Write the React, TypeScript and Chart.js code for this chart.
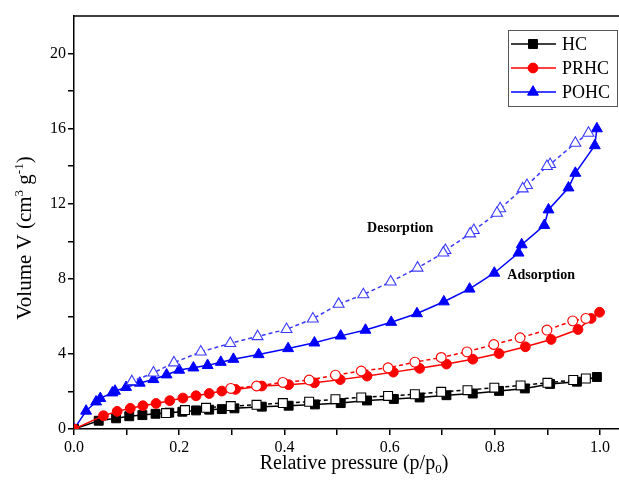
import React, { useEffect, useRef } from "react";
import { Chart, registerables } from "chart.js";

Chart.register(...registerables);

const FONT = "'Liberation Serif', 'Times New Roman', serif";

// HC
const hcAdsX = [0, 0.047, 0.08, 0.105, 0.13, 0.155, 0.181, 0.206, 0.232, 0.257, 0.281, 0.305, 0.357, 0.408, 0.458, 0.507, 0.557, 0.608, 0.657, 0.708, 0.758, 0.808, 0.857, 0.905, 0.956, 0.994];
const hcAdsY = [0, 0.44, 0.57, 0.68, 0.74, 0.81, 0.87, 0.92, 0.99, 1.03, 1.06, 1.10, 1.19, 1.24, 1.31, 1.38, 1.52, 1.60, 1.68, 1.80, 1.89, 2.03, 2.16, 2.40, 2.52, 2.77];
const hcDesX = [0.973, 0.949, 0.9, 0.849, 0.799, 0.748, 0.698, 0.648, 0.597, 0.546, 0.497, 0.447, 0.397, 0.347, 0.298, 0.251, 0.211, 0.175];
const hcDesY = [2.69, 2.61, 2.46, 2.32, 2.20, 2.07, 1.98, 1.85, 1.76, 1.68, 1.59, 1.45, 1.38, 1.29, 1.22, 1.13, 1.01, 0.85];

// PRHC
const prhcAdsX = [0, 0.056, 0.082, 0.107, 0.131, 0.156, 0.182, 0.207, 0.232, 0.257, 0.281, 0.307, 0.357, 0.408, 0.457, 0.506, 0.557, 0.607, 0.657, 0.708, 0.758, 0.808, 0.858, 0.907, 0.958, 0.983, 0.999];
const prhcAdsY = [0, 0.71, 0.94, 1.10, 1.24, 1.36, 1.51, 1.65, 1.77, 1.89, 2.02, 2.11, 2.29, 2.36, 2.46, 2.63, 2.82, 3.03, 3.23, 3.46, 3.72, 4.02, 4.38, 4.77, 5.30, 5.89, 6.22];
const prhcDesX = [0.973, 0.948, 0.899, 0.848, 0.798, 0.747, 0.698, 0.648, 0.597, 0.546, 0.497, 0.447, 0.397, 0.347, 0.298];
const prhcDesY = [5.89, 5.76, 5.27, 4.86, 4.50, 4.11, 3.81, 3.56, 3.26, 3.09, 2.87, 2.61, 2.48, 2.29, 2.16];

// POHC
const pohcAdsX = [0, 0.023, 0.042, 0.05, 0.073, 0.078, 0.099, 0.125, 0.151, 0.176, 0.2, 0.227, 0.254, 0.279, 0.303, 0.351, 0.407, 0.457, 0.507, 0.554, 0.603, 0.652, 0.703, 0.752, 0.799, 0.845, 0.851, 0.894, 0.902, 0.94, 0.953, 0.99, 0.994];
const pohcAdsY = [0, 0.96, 1.45, 1.63, 1.93, 2.02, 2.22, 2.45, 2.64, 2.89, 3.14, 3.26, 3.39, 3.56, 3.72, 3.97, 4.29, 4.59, 4.96, 5.27, 5.69, 6.15, 6.78, 7.46, 8.31, 9.38, 9.82, 10.85, 11.68, 12.85, 13.63, 15.1, 16.0];
const pohcDesX = [0.978, 0.953, 0.905, 0.899, 0.861, 0.853, 0.81, 0.804, 0.76, 0.753, 0.706, 0.702, 0.653, 0.602, 0.55, 0.503, 0.454, 0.404, 0.349, 0.297, 0.241, 0.19, 0.151, 0.11];
const pohcDesY = [15.76, 15.23, 14.1, 13.99, 12.98, 12.8, 11.74, 11.5, 10.58, 10.4, 9.52, 9.38, 8.58, 7.84, 7.16, 6.65, 5.87, 5.31, 4.93, 4.56, 4.11, 3.53, 2.99, 2.53];

const xTicks = [0, 0.1, 0.2, 0.3, 0.4, 0.5, 0.6, 0.7, 0.8, 0.9, 1.0];
const yTicks = [0, 2, 4, 6, 8, 10, 12, 14, 16, 18, 20];

const legendItems = [
  { label: "HC", color: "#000000", style: "rect", radius: 6.3 },
  { label: "PRHC", color: "#ff0000", style: "circle", radius: 4.9 },
  { label: "POHC", color: "#0000ff", style: "triangle", radius: 6.3 },
];

const pairs = (xs: number[], ys: number[]) => xs.map((x, i) => ({ x, y: ys[i] }));

function adsorption(xs: number[], ys: number[], color: string, style: string, radius: number) {
  return {
    data: pairs(xs, ys),
    borderColor: color,
    backgroundColor: color,
    borderWidth: 1.5,
    pointStyle: style,
    pointRadius: radius,
    pointBackgroundColor: color,
    pointBorderColor: color,
    pointBorderWidth: 1,
  };
}

function desorption(xs: number[], ys: number[], color: string, style: string, radius: number) {
  return {
    data: pairs(xs, ys),
    borderColor: color,
    backgroundColor: "#ffffff",
    borderWidth: 1.5,
    borderDash: [4, 3],
    pointStyle: style,
    pointRadius: radius,
    pointBackgroundColor: "#ffffff",
    pointBorderColor: color,
    pointBorderWidth: 1.1,
  };
}

function drawRich(ctx: CanvasRenderingContext2D, parts: { t: string; size: number; dy: number }[], cx: number, cy: number) {
  let total = 0;
  for (const p of parts) {
    ctx.font = `${p.size}px ${FONT}`;
    total += ctx.measureText(p.t).width;
  }
  let x = cx - total / 2;
  ctx.textAlign = "left";
  ctx.textBaseline = "alphabetic";
  for (const p of parts) {
    ctx.font = `${p.size}px ${FONT}`;
    ctx.fillText(p.t, x, cy + p.dy);
    x += ctx.measureText(p.t).width;
  }
}

function drawMarker(ctx: CanvasRenderingContext2D, style: string, x: number, y: number, r: number) {
  ctx.beginPath();
  if (style === "rect") {
    const s = Math.SQRT1_2 * r;
    ctx.rect(x - s, y - s, 2 * s, 2 * s);
  } else if (style === "circle") {
    ctx.arc(x, y, r, 0, Math.PI * 2);
  } else {
    for (let k = 0; k < 3; k++) {
      const ang = (k * 2 * Math.PI) / 3;
      const px = x + Math.sin(ang) * r;
      const py = y - Math.cos(ang) * r;
      if (k === 0) ctx.moveTo(px, py);
      else ctx.lineTo(px, py);
    }
    ctx.closePath();
  }
  ctx.fill();
  ctx.stroke();
}

// Top frame line, curve annotations, axis titles and the boxed legend
const decor = {
  id: "decor",
  afterDraw(chart: any) {
    const { ctx, chartArea: a, scales } = chart;
    ctx.save();
    ctx.strokeStyle = "#000";
    ctx.lineWidth = 1.5;
    ctx.beginPath();
    ctx.moveTo(a.left, a.top);
    ctx.lineTo(a.right, a.top);
    ctx.stroke();

    ctx.fillStyle = "#000";
    ctx.font = `bold 14px ${FONT}`;
    ctx.textAlign = "center";
    ctx.textBaseline = "middle";
    ctx.fillText("Desorption", scales.x.getPixelForValue(0.62), scales.y.getPixelForValue(10.7));
    ctx.fillText("Adsorption", scales.x.getPixelForValue(0.888), scales.y.getPixelForValue(8.2));

    drawRich(
      ctx,
      [
        { t: "Relative pressure (p/p", size: 20, dy: 0 },
        { t: "0", size: 13, dy: 4 },
        { t: ")", size: 20, dy: 0 },
      ],
      a.left + 280,
      469
    );
    ctx.save();
    ctx.translate(31, 238);
    ctx.rotate(-Math.PI / 2);
    drawRich(
      ctx,
      [
        { t: "Volume V (cm", size: 21, dy: 0 },
        { t: "3", size: 13, dy: -8 },
        { t: " g", size: 21, dy: 0 },
        { t: "-1", size: 13, dy: -8 },
        { t: ")", size: 21, dy: 0 },
      ],
      0,
      0
    );
    ctx.restore();

    const bx = 508, by = 30, bw = 109, bh = 76;
    ctx.fillStyle = "#fff";
    ctx.fillRect(bx, by, bw, bh);
    ctx.strokeStyle = "#555";
    ctx.lineWidth = 1;
    ctx.strokeRect(bx + 0.5, by + 0.5, bw, bh);
    legendItems.forEach((it, i) => {
      const y = by + 14 + i * 24;
      ctx.strokeStyle = it.color;
      ctx.lineWidth = 1.5;
      ctx.beginPath();
      ctx.moveTo(bx + 3, y);
      ctx.lineTo(bx + 48, y);
      ctx.stroke();
      ctx.fillStyle = it.color;
      ctx.lineWidth = 1;
      drawMarker(ctx, it.style, bx + 25, y, it.radius);
      ctx.fillStyle = "#000";
      ctx.font = `18px ${FONT}`;
      ctx.textAlign = "left";
      ctx.textBaseline = "middle";
      ctx.fillText(it.label, bx + 54, y + 1);
    });
    ctx.restore();
  },
};

export default function App() {
  const ref = useRef<HTMLCanvasElement | null>(null);

  useEffect(() => {
    if (!ref.current) return;
    const chart = new Chart(ref.current, {
      type: "line",
      data: {
        datasets: [
          desorption(prhcDesX, prhcDesY, "#ff0000", "circle", 4.9),
          desorption(hcDesX, hcDesY, "#000000", "rect", 6.3),
          desorption(pohcDesX, pohcDesY, "#3a3aff", "triangle", 6.3),
          adsorption(prhcAdsX, prhcAdsY, "#ff0000", "circle", 4.9),
          adsorption(hcAdsX, hcAdsY, "#000000", "rect", 6.3),
          adsorption(pohcAdsX, pohcAdsY, "#0000ff", "triangle", 6.3),
        ] as any,
      },
      options: {
        animation: false,
        responsive: false,
        devicePixelRatio: 1,
        layout: { autoPadding: false, padding: { top: 16, right: 0, left: 0, bottom: 0 } },
        plugins: { legend: { display: false }, tooltip: { enabled: false } },
        elements: { line: { tension: 0 } },
        scales: {
          x: {
            type: "linear",
            min: 0,
            max: 1.036,
            afterBuildTicks: (s: any) => {
              s.ticks = xTicks.map((v) => ({ value: v }));
            },
            afterFit: (s: any) => {
              s.height = 56;
              s.paddingLeft = 0;
              s.paddingRight = 0;
            },
            ticks: {
              callback: (v: any) => (Math.round(v * 10) % 2 === 0 ? Number(v).toFixed(1) : ""),
              font: { family: FONT, size: 16 },
              color: "#000",
              padding: 3,
              maxRotation: 0,
              autoSkip: false,
            },
            grid: { drawOnChartArea: false, drawTicks: true, tickLength: 6, color: "#000", lineWidth: 1.5 },
            border: { color: "#000", width: 1.5 },
          },
          y: {
            type: "linear",
            min: 0,
            max: 22,
            afterBuildTicks: (s: any) => {
              s.ticks = yTicks.map((v) => ({ value: v }));
            },
            afterFit: (s: any) => {
              s.width = 74;
              s.paddingTop = 0;
              s.paddingBottom = 0;
            },
            ticks: {
              callback: (v: any) => (v % 4 === 0 ? String(v) : ""),
              font: { family: FONT, size: 16 },
              color: "#000",
              padding: 2,
              autoSkip: false,
            },
            grid: { drawOnChartArea: false, drawTicks: true, tickLength: 6, color: "#000", lineWidth: 1.5 },
            border: { color: "#000", width: 1.5 },
          },
        },
      } as any,
      plugins: [decor],
    });
    return () => chart.destroy();
  }, []);

  return (
    <div style={{ position: "fixed", left: 0, top: 0, width: 619, height: 485, background: "#fff" }}>
      <canvas ref={ref} width={619} height={485} style={{ width: 619, height: 485, display: "block" }} />
    </div>
  );
}
